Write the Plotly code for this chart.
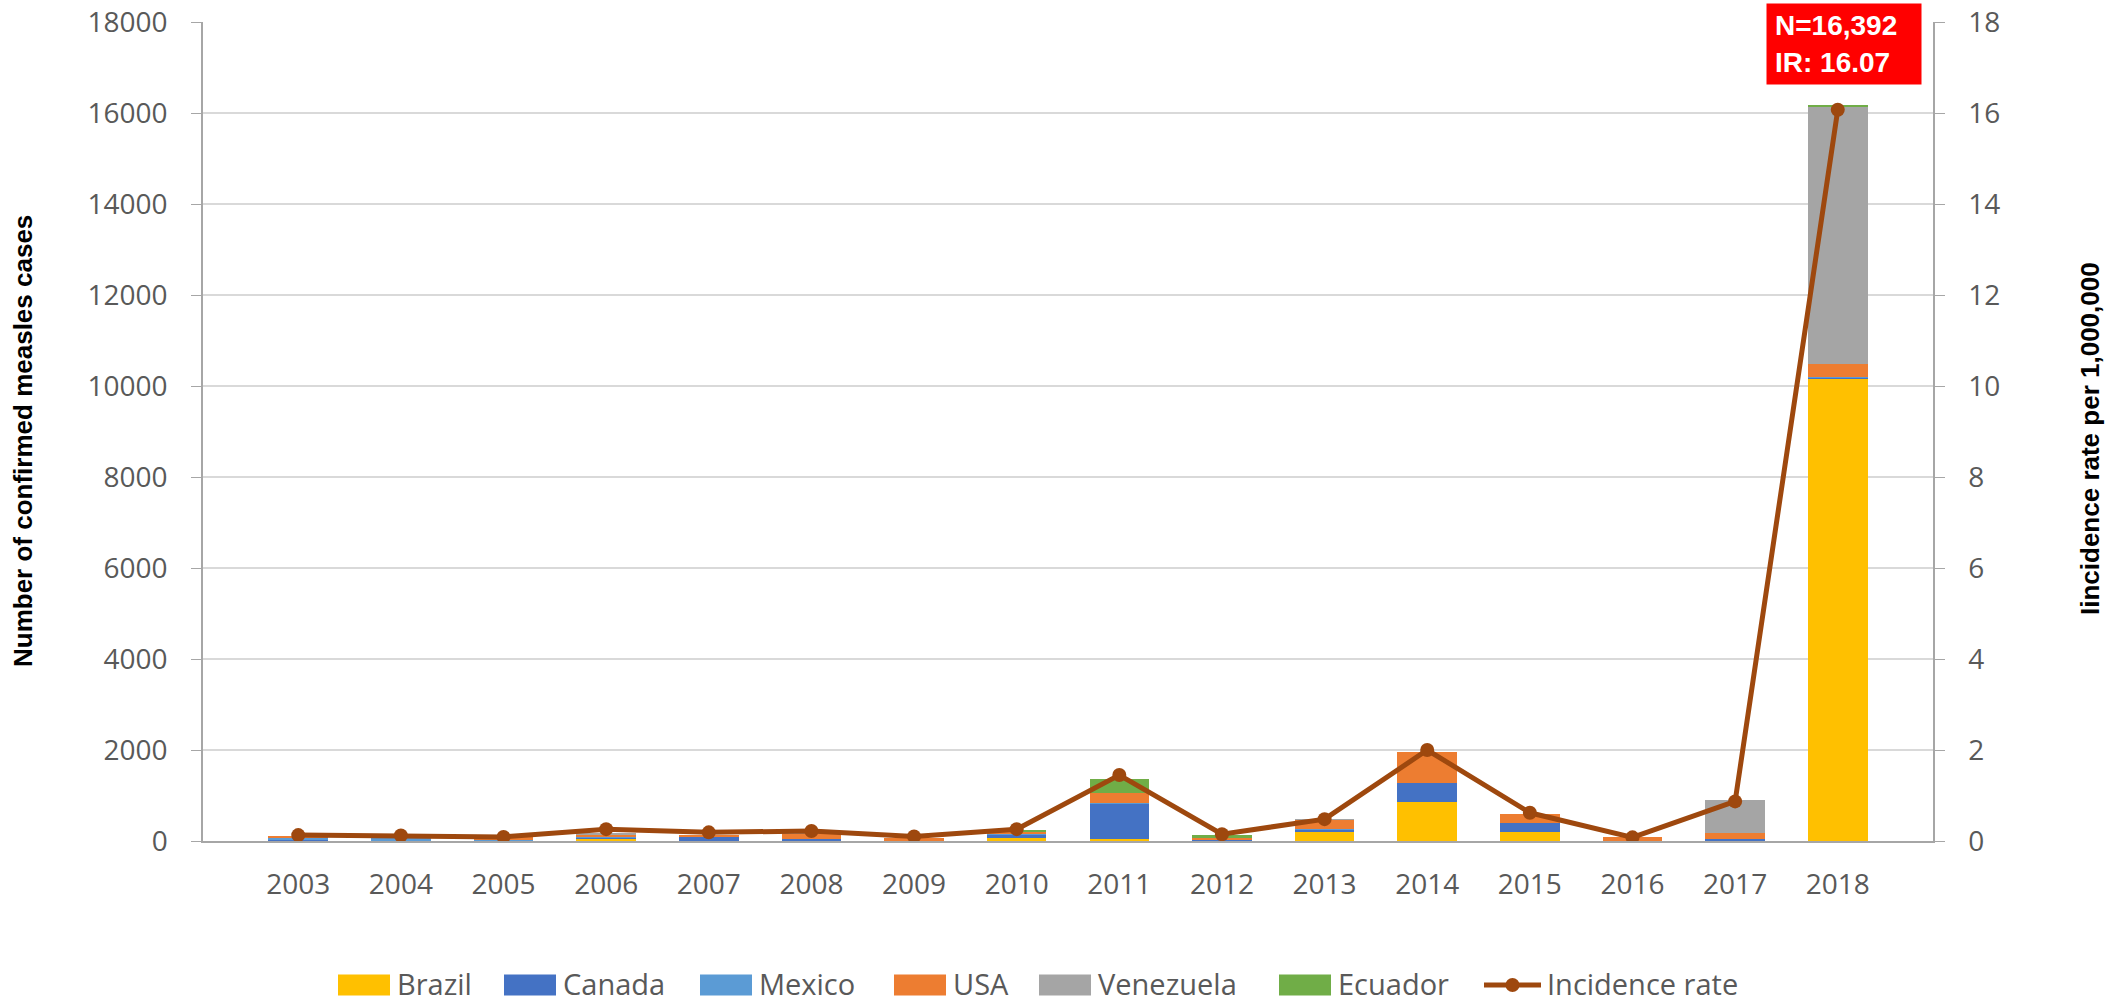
import plotly.graph_objects as go

years = ["2003", "2004", "2005", "2006", "2007", "2008", "2009", "2010",
         "2011", "2012", "2013", "2014", "2015", "2016", "2017", "2018"]
brazil = [0, 0, 6, 57, 0, 0, 0, 60, 44, 2, 190, 865, 205, 0, 0, 10170]
canada = [18, 10, 6, 14, 90, 45, 10, 88, 790, 10, 73, 418, 198, 11, 45, 14]
mexico = [44, 64, 6, 23, 0, 0, 0, 5, 3, 0, 5, 2, 0, 0, 0, 5]
usa = [56, 37, 66, 55, 43, 110, 50, 51, 220, 55, 198, 674, 190, 80, 132, 294]
venezuela = [0, 0, 0, 20, 0, 1, 0, 8, 0, 1, 14, 0, 0, 0, 718, 5662]
ecuador = [0, 0, 0, 0, 0, 0, 0, 22, 300, 72, 0, 0, 0, 0, 0, 19]
incidence = [0.13, 0.12, 0.09, 0.26, 0.19, 0.22, 0.10, 0.26,
             1.45, 0.15, 0.48, 2.00, 0.62, 0.08, 0.87, 16.07]

series = [
    ("Brazil", brazil, "#FFC000"),
    ("Canada", canada, "#4472C4"),
    ("Mexico", mexico, "#5B9BD5"),
    ("USA", usa, "#ED7D31"),
    ("Venezuela", venezuela, "#A5A5A5"),
    ("Ecuador", ecuador, "#70AD47"),
]
line_name = "Incidence rate"
line_color = "#9E480E"

# layout geometry (pixels)
W, H = 2126, 1004
ML, MR, MT, MB = 203, 193, 22, 163
PW = W - ML - MR
PH = H - MT - MB


def px_x(p):
    return (p - ML) / PW


def px_y(p):
    return (H - MB - p) / PH


fig = go.Figure()
for name, vals, col in series:
    fig.add_trace(go.Bar(x=years, y=vals, name=name, marker=dict(color=col, line=dict(width=0)),
                         yaxis="y", showlegend=False))
fig.add_trace(go.Scatter(x=years, y=incidence, name=line_name, yaxis="y2",
                         mode="lines+markers", showlegend=False,
                         line=dict(color=line_color, width=5),
                         marker=dict(color=line_color, size=14)))

tickfont = dict(family="Open Sans", size=28, color="#595959")
titlefont = dict(family="Liberation Sans", size=26, color="black")
legfont = dict(family="Open Sans", size=29, color="#595959")

# custom legend (Excel-style wide swatches)
legend_swatch_left = [338, 504, 700, 894, 1039, 1279]
shapes = []
annotations = []
ly = 983
for (name, _, col), x0 in zip(series, legend_swatch_left):
    shapes.append(dict(type="rect", xref="paper", yref="paper",
                       x0=px_x(x0), x1=px_x(x0 + 52), y0=px_y(ly + 12.5), y1=px_y(ly - 8.5),
                       fillcolor=col, line=dict(width=0)))
    annotations.append(dict(xref="paper", yref="paper", x=px_x(x0 + 57), y=px_y(ly),
                            xanchor="left", yanchor="middle", text=name, showarrow=False,
                            font=legfont))
lx0 = 1484
shapes.append(dict(type="line", xref="paper", yref="paper", x0=px_x(lx0), x1=px_x(lx0 + 57),
                   y0=px_y(ly + 2), y1=px_y(ly + 2), line=dict(color=line_color, width=5)))
shapes.append(dict(type="circle", xref="paper", yref="paper",
                   x0=px_x(lx0 + 28.5 - 7), x1=px_x(lx0 + 28.5 + 7),
                   y0=px_y(ly + 9), y1=px_y(ly - 5), fillcolor=line_color,
                   line=dict(width=0)))
annotations.append(dict(xref="paper", yref="paper", x=px_x(lx0 + 61), y=px_y(ly),
                        xanchor="left", yanchor="middle", text=line_name, showarrow=False,
                        font=legfont))

# axis titles
annotations.append(dict(xref="paper", yref="paper", x=px_x(23), y=px_y(441),
                        xanchor="center", yanchor="middle", textangle=-90, showarrow=False,
                        text="<b>Number of confirmed measles cases</b>", font=titlefont))
annotations.append(dict(xref="paper", yref="paper", x=px_x(2090), y=px_y(439),
                        xanchor="center", yanchor="middle", textangle=-90, showarrow=False,
                        text="<b>Iincidence rate per 1,000,000</b>", font=titlefont))

# callout box
annotations.append(dict(
    xref="paper", yref="paper", x=px_x(1844), y=px_y(44), xanchor="center", yanchor="middle",
    text="<b>N=16,392<br>IR: 16.07</b>", align="left", showarrow=False,
    font=dict(family="Liberation Sans", size=28, color="white"),
    bgcolor="#FF0000", borderpad=8, width=138, height=64,
))

fig.update_layout(
    width=W, height=H,
    barmode="stack", bargap=0.42,
    plot_bgcolor="white", paper_bgcolor="white",
    margin=dict(l=ML, r=MR, t=MT, b=MB, autoexpand=False),
    showlegend=False,
    xaxis=dict(type="category", tickfont=tickfont, showline=True, linecolor="#a6a6a6",
               linewidth=1.5, ticks="", ticklabelstandoff=18, showgrid=False,
               automargin=False),
    yaxis=dict(range=[0, 18000], dtick=2000, tickformat="d", tickfont=tickfont,
               showline=True, linecolor="#a6a6a6", linewidth=1.5, ticks="outside",
               ticklen=10, tickcolor="#a6a6a6", gridcolor="#d9d9d9", gridwidth=2,
               zeroline=False, ticklabelstandoff=18, automargin=False),
    yaxis2=dict(range=[0, 18], dtick=2, overlaying="y", side="right", tickfont=tickfont,
                showline=True, linecolor="#a6a6a6", linewidth=1.5, ticks="outside",
                ticklen=10, tickcolor="#a6a6a6", showgrid=False, zeroline=False,
                ticklabelstandoff=18, automargin=False),
    shapes=shapes,
    annotations=annotations,
)

fig.write_html("out.html", config={"displayModeBar": False},
               post_script="document.body.style.margin='0';document.body.style.overflow='hidden';")
